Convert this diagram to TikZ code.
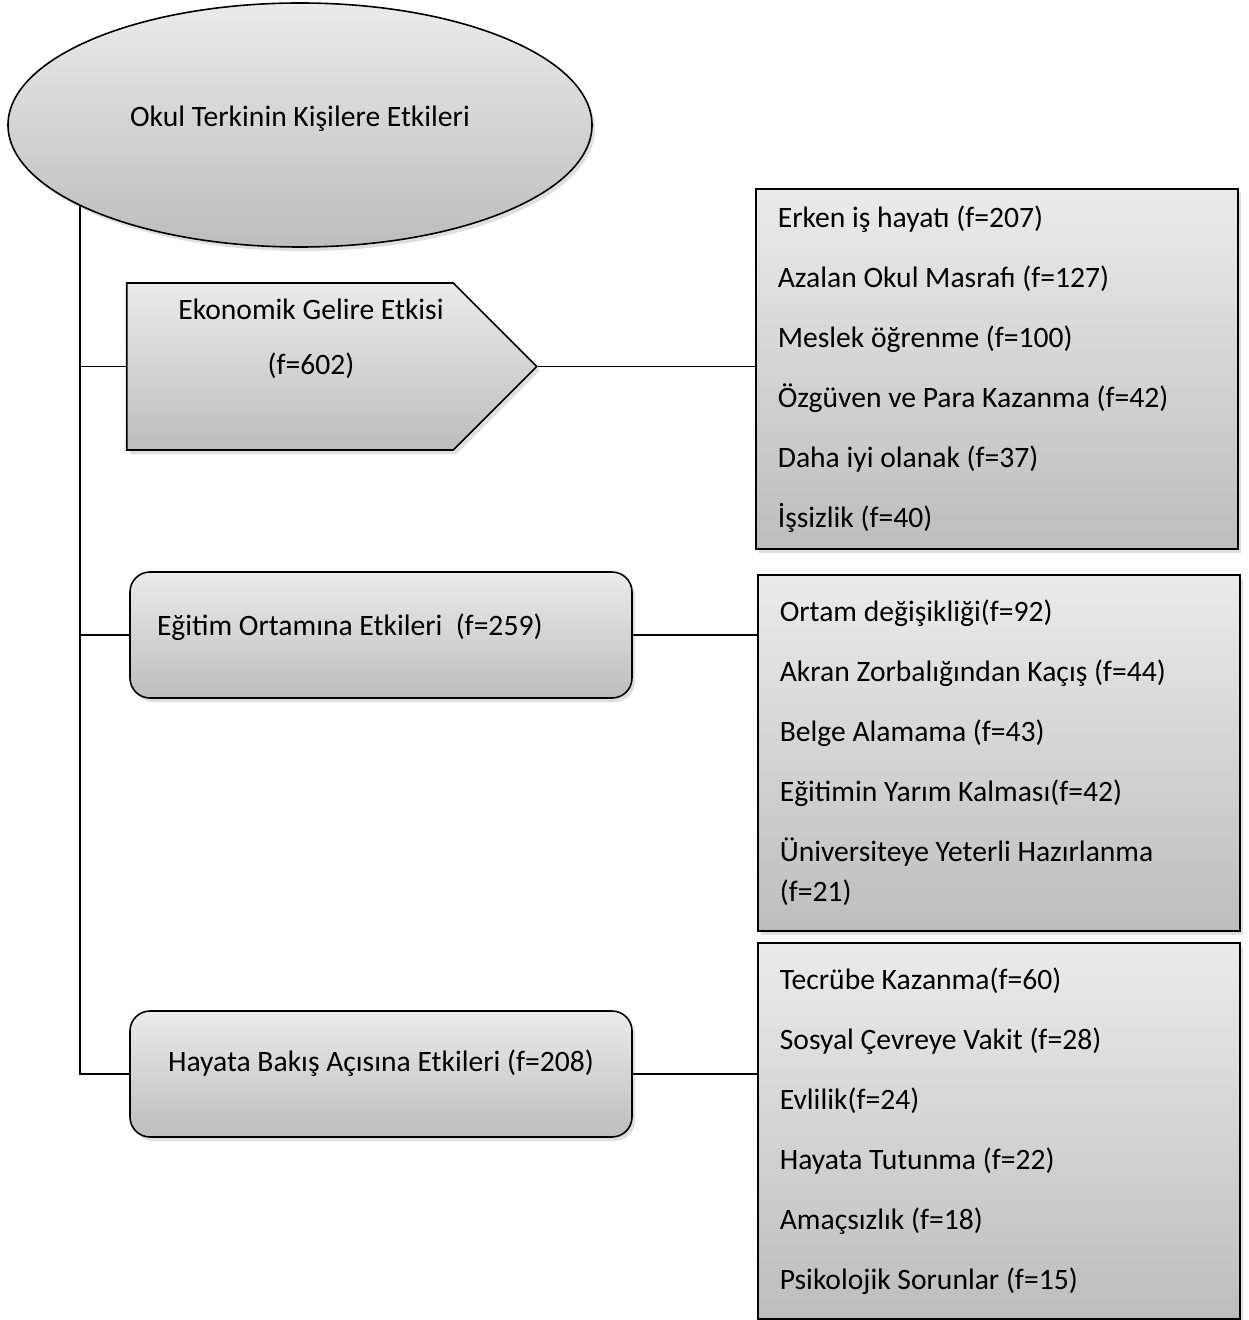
\documentclass[tikz,border=0pt]{standalone}
\usepackage{fontspec}
\setmainfont{Carlito}
\usetikzlibrary{shapes.geometric,shapes.symbols,shadows,backgrounds}
\definecolor{Lite}{HTML}{EBEBEB}
\definecolor{Dark}{HTML}{BDBDBD}
\tikzset{shadebox/.style={draw=black,line width=.8pt,top color=Lite,bottom color=Dark,drop shadow={opacity=.25,shadow xshift=1.5pt,shadow yshift=-2pt}},
  head/.style={shadebox,ellipse,minimum width=292pt,minimum height=122pt,inner sep=0pt,font=\fontsize{14.8}{17}\selectfont},
  arrowbox/.style={shadebox,signal,signal to=east,signal pointer angle=90,minimum width=205pt,minimum height=83.5pt,inner sep=0pt},
  roundbox/.style={shadebox,rectangle,rounded corners=10pt,minimum width=251pt,minimum height=63pt,inner sep=0pt,font=\fontsize{14.8}{17}\selectfont},
  listbox/.style={shadebox,rectangle,anchor=north west,align=flush left,text width=219pt,inner xsep=11pt,inner ysep=0pt,font=\fontsize{14.8}{20}\selectfont},
  link/.style={line width=.8pt}}

\begin{document}
\begin{tikzpicture}[x=0.5pt,y=-0.5pt]
\useasboundingbox (0,0) rectangle (1248,1320);
% root
\node[head,text height=9pt,text depth=7pt] (root) at (300,125) {Okul Terkinin Kişilere Etkileri};
% three effects
\node[arrowbox,label={[name=b1t,align=center,font=\fontsize{14.8}{27.5}\selectfont,xshift=10.5pt,yshift=14pt]center:{Ekonomik Gelire Etkisi\\(f=602)}}] (b1) at (290,366.5) {};
\node[roundbox,text width=224pt,align=flush left,inner xsep=13.5pt,text height=8pt,text depth=8pt] (b2) at (381,635) {Eğitim Ortamına Etkileri~~(f=259)};
\node[roundbox,align=center,text height=8pt,text depth=11pt] (b3) at (381,1074) {Hayata Bakış Açısına Etkileri (f=208)};
% lists
\node[listbox,minimum height=180pt] (l1) at (755,188) {Erken iş hayatı (f=207)\\[10pt]Azalan Okul Masrafı (f=127)\\[10pt]Meslek öğrenme (f=100)\\[10pt]Özgüven ve Para Kazanma (f=42)\\[10pt]Daha iyi olanak (f=37)\\[10pt]İşsizlik (f=40)};
\node[listbox,minimum height=178pt] (l2) at (757,574) {Ortam değişikliği(f=92)\\[10pt]Akran Zorbalığından Kaçış (f=44)\\[10pt]Belge Alamama (f=43)\\[10pt]Eğitimin Yarım Kalması(f=42)\\[10pt]Üniversiteye Yeterli Hazırlanma\\(f=21)};
\node[listbox,minimum height=188pt] (l3) at (757,942) {Tecrübe Kazanma(f=60)\\[10pt]Sosyal Çevreye Vakit (f=28)\\[10pt]Evlilik(f=24)\\[10pt]Hayata Tutunma (f=22)\\[10pt]Amaçsızlık (f=18)\\[10pt]Psikolojik Sorunlar (f=15)};
\coordinate (trunk) at (80,200);
\begin{scope}[on background layer]
\draw[link] (trunk) |- (b3.west);
\foreach \b in {b1,b2}{\draw[link] (trunk |- \b.west) -- (\b.west);}
\foreach \b/\l in {b1/l1,b2/l2,b3/l3}{\draw[link] (\b.east) -- (\b.east -| \l.west);}
\end{scope}
\end{tikzpicture}
\end{document}
